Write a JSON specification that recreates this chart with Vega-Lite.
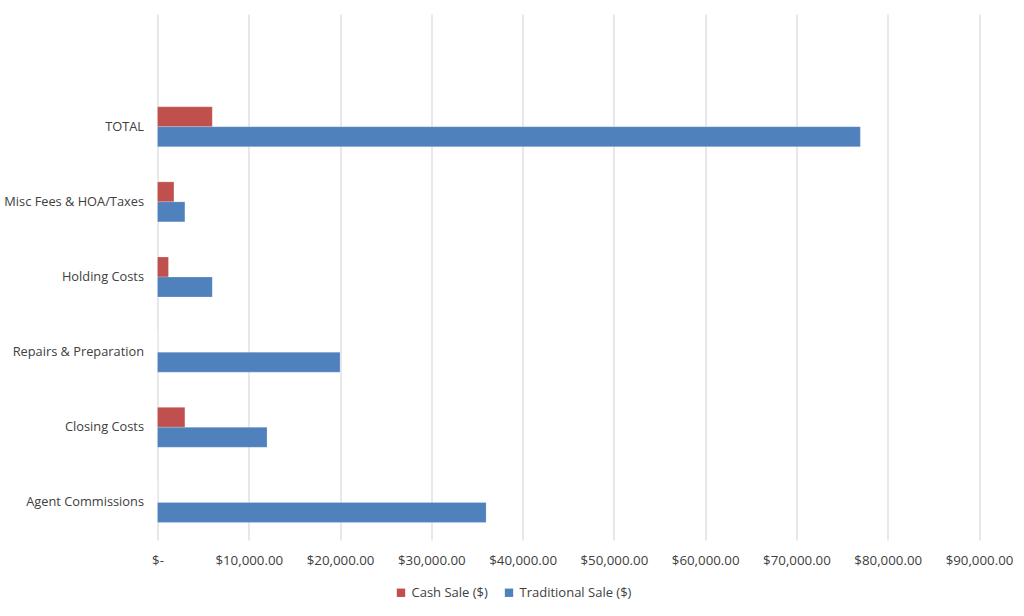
{
  "$schema": "https://vega.github.io/schema/vega-lite/v6.json",
  "autosize": "none",
  "width": 821.5,
  "height": 526,
  "padding": {"left": 157.5, "top": 14, "right": 45, "bottom": 76},
  "background": "white",
  "config": {
    "font": "Open Sans",
    "view": {"stroke": null},
    "axis": {"labelFont": "Open Sans", "labelFontSize": 13, "labelColor": "#404040"}
  },
  "data": {
    "values": [
      {"category": "TOTAL", "series": "Cash Sale ($)", "value": 6000},
      {"category": "TOTAL", "series": "Traditional Sale ($)", "value": 77000},
      {"category": "Misc Fees & HOA/Taxes", "series": "Cash Sale ($)", "value": 1800},
      {"category": "Misc Fees & HOA/Taxes", "series": "Traditional Sale ($)", "value": 3000},
      {"category": "Holding Costs", "series": "Cash Sale ($)", "value": 1200},
      {"category": "Holding Costs", "series": "Traditional Sale ($)", "value": 6000},
      {"category": "Repairs & Preparation", "series": "Cash Sale ($)", "value": 0},
      {"category": "Repairs & Preparation", "series": "Traditional Sale ($)", "value": 20000},
      {"category": "Closing Costs", "series": "Cash Sale ($)", "value": 3000},
      {"category": "Closing Costs", "series": "Traditional Sale ($)", "value": 12000},
      {"category": "Agent Commissions", "series": "Cash Sale ($)", "value": 0},
      {"category": "Agent Commissions", "series": "Traditional Sale ($)", "value": 36000}
    ]
  },
  "mark": {"type": "bar", "stroke": "#ffffff", "strokeWidth": 0.4, "strokeOpacity": 0.5},
  "encoding": {
    "y": {
      "field": "category",
      "type": "nominal",
      "scale": {
        "domain": [" ", "TOTAL", "Misc Fees & HOA/Taxes", "Holding Costs", "Repairs & Preparation", "Closing Costs", "Agent Commissions"],
        "paddingInner": 0.468,
        "paddingOuter": 0.234
      },
      "axis": {
        "title": null,
        "ticks": false,
        "domain": false,
        "labelPadding": 14,
        "labelFontSize": 12.8
      }
    },
    "yOffset": {
      "field": "series",
      "type": "nominal",
      "sort": ["Cash Sale ($)", "Traditional Sale ($)"],
      "scale": {"paddingInner": 0, "paddingOuter": 0}
    },
    "x": {
      "field": "value",
      "type": "quantitative",
      "scale": {"domain": [0, 90000], "nice": false, "zero": true},
      "axis": {
        "title": null,
        "values": [0, 10000, 20000, 30000, 40000, 50000, 60000, 70000, 80000, 90000],
        "labelExpr": "datum.value == 0 ? '$-\u00a0\u00a0\u00a0\u00a0\u00a0' : '$' + format(datum.value, ',.2f')",
        "labelOverlap": false,
        "labelFlush": false,
        "labelBound": false,
        "ticks": false,
        "domain": false,
        "grid": true,
        "gridColor": "#d9d9d9",
        "gridWidth": 1.2,
        "labelPadding": 13,
        "labelFontSize": 13.3
      }
    },
    "color": {
      "field": "series",
      "type": "nominal",
      "sort": ["Cash Sale ($)", "Traditional Sale ($)"],
      "scale": {"domain": ["Cash Sale ($)", "Traditional Sale ($)"], "range": ["#C0504D", "#4F81BD"]},
      "legend": {
        "title": null,
        "orient": "none",
        "direction": "horizontal",
        "legendX": 237,
        "legendY": 572,
        "symbolType": "square",
        "symbolSize": 70,
        "symbolStrokeWidth": 0,
        "labelFontSize": 13,
        "labelColor": "#404040",
        "labelOffset": 4,
        "columnPadding": 14
      }
    }
  }
}
